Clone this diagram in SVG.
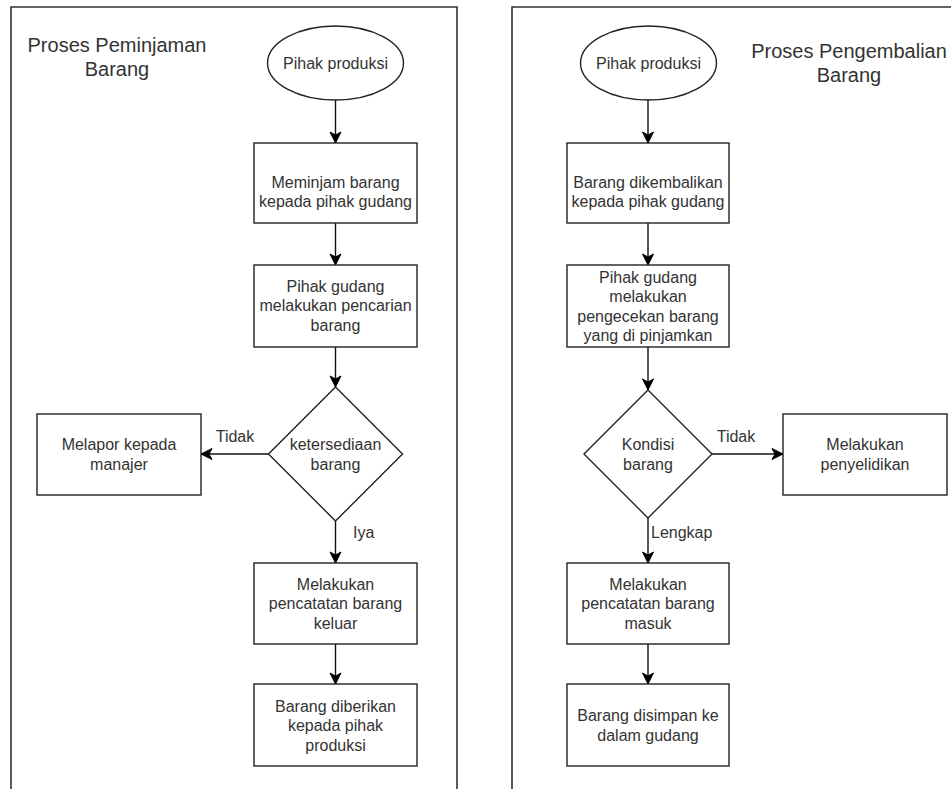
<svg xmlns="http://www.w3.org/2000/svg" width="951" height="789" viewBox="0 0 951 789">
<defs>
<marker id="arr" markerUnits="userSpaceOnUse" markerWidth="14" markerHeight="14" refX="0" refY="0" orient="auto" overflow="visible">
<path d="M0,0 L-11,-5.5 L-8,0 L-11,5.5 Z" fill="#000" stroke="#000" stroke-width="1"/>
</marker>
<style>
.bg{fill:#fff}
.shape{fill:#fff;stroke:#222;stroke-width:1.4}
.panel{fill:none;stroke:#333;stroke-width:1.6}
.edge{fill:none;stroke:#111;stroke-width:1.4;marker-end:url(#arr)}
text{font-family:"Liberation Sans",Arial,sans-serif;fill:#333;font-size:16px}
.c{text-anchor:middle}
.title{font-size:20px}
</style>
</defs>
<rect class="bg" x="0" y="0" width="951" height="789"/>
<g id="panels">
<path class="panel" d="M11,789 V7 H457 V789"/>
<path class="panel" d="M512,789 V7 H951"/>
</g>
<g id="title-left"><text class="c title" x="117" y="52">Proses Peminjaman</text><text class="c title" x="117" y="76">Barang</text></g>
<g id="title-right"><text class="c title" x="849" y="58">Proses Pengembalian</text><text class="c title" x="849" y="82">Barang</text></g>

<g id="connectors">
<path class="edge" d="M335.5,100 V143"/>
<path class="edge" d="M335.5,223 V265"/>
<path class="edge" d="M335.5,347 V387"/>
<path class="edge" d="M268.5,454 H201"/>
<path class="edge" d="M335.5,521 V563"/>
<path class="edge" d="M335.5,644 V684"/>
<path class="edge" d="M648,100 V143"/>
<path class="edge" d="M648,223 V265"/>
<path class="edge" d="M648,347 V390"/>
<path class="edge" d="M712,454 H783"/>
<path class="edge" d="M648,518 V563"/>
<path class="edge" d="M648,644 V684"/>
</g>
<g id="edge-labels">
<text class="c" x="235" y="441.5">Tidak</text>
<text x="353" y="537.5">Iya</text>
<text class="c" x="736" y="441.5">Tidak</text>
<text x="651" y="537.5">Lengkap</text>
</g>

<g id="L-start"><ellipse class="shape" cx="335.5" cy="63" rx="68" ry="37"/><text class="c" x="335.5" y="68.5">Pihak produksi</text></g>
<g id="L-pinjam"><rect class="shape" x="254" y="143" width="163" height="80"/><text class="c" x="335.5" y="187.5">Meminjam barang</text><text class="c" x="335.5" y="206.5">kepada pihak gudang</text></g>
<g id="L-cari"><rect class="shape" x="254" y="265" width="163" height="82"/><text class="c" x="335.5" y="291.5">Pihak gudang</text><text class="c" x="335.5" y="311">melakukan pencarian</text><text class="c" x="335.5" y="330.5">barang</text></g>
<g id="L-cek"><path class="shape" d="M335.5,387 L402.5,454 L335.5,521 L268.5,454 Z"/><text class="c" x="335.5" y="449.5">ketersediaan</text><text class="c" x="335.5" y="469.5">barang</text></g>
<g id="L-lapor"><rect class="shape" x="37" y="414" width="164" height="81"/><text class="c" x="119" y="449.5">Melapor kepada</text><text class="c" x="119" y="469.5">manajer</text></g>
<g id="L-catat"><rect class="shape" x="254" y="563" width="163" height="81"/><text class="c" x="335.5" y="589.5">Melakukan</text><text class="c" x="335.5" y="609">pencatatan barang</text><text class="c" x="335.5" y="628.5">keluar</text></g>
<g id="L-beri"><rect class="shape" x="254" y="684" width="163" height="82"/><text class="c" x="335.5" y="711.5">Barang diberikan</text><text class="c" x="335.5" y="731">kepada pihak</text><text class="c" x="335.5" y="750.5">produksi</text></g>

<g id="R-start"><ellipse class="shape" cx="648.5" cy="63" rx="68" ry="37"/><text class="c" x="648.5" y="68.5">Pihak produksi</text></g>
<g id="R-kembali"><rect class="shape" x="567" y="143" width="162" height="80"/><text class="c" x="648" y="187.5">Barang dikembalikan</text><text class="c" x="648" y="206.5">kepada pihak gudang</text></g>
<g id="R-cek"><rect class="shape" x="567" y="265" width="162" height="82"/><text class="c" x="648" y="282.5">Pihak gudang</text><text class="c" x="648" y="302">melakukan</text><text class="c" x="648" y="321.5">pengecekan barang</text><text class="c" x="648" y="341">yang di pinjamkan</text></g>
<g id="R-kondisi"><path class="shape" d="M648,390 L712,454 L648,518 L584,454 Z"/><text class="c" x="648" y="449.5">Kondisi</text><text class="c" x="648" y="469.5">barang</text></g>
<g id="R-selidik"><rect class="shape" x="783" y="414" width="164" height="81"/><text class="c" x="865" y="449.5">Melakukan</text><text class="c" x="865" y="469.5">penyelidikan</text></g>
<g id="R-catat"><rect class="shape" x="567" y="563" width="162" height="81"/><text class="c" x="648" y="589.5">Melakukan</text><text class="c" x="648" y="609">pencatatan barang</text><text class="c" x="648" y="628.5">masuk</text></g>
<g id="R-simpan"><rect class="shape" x="567" y="684" width="162" height="82"/><text class="c" x="648" y="720.5">Barang disimpan ke</text><text class="c" x="648" y="740.5">dalam gudang</text></g>
</svg>
